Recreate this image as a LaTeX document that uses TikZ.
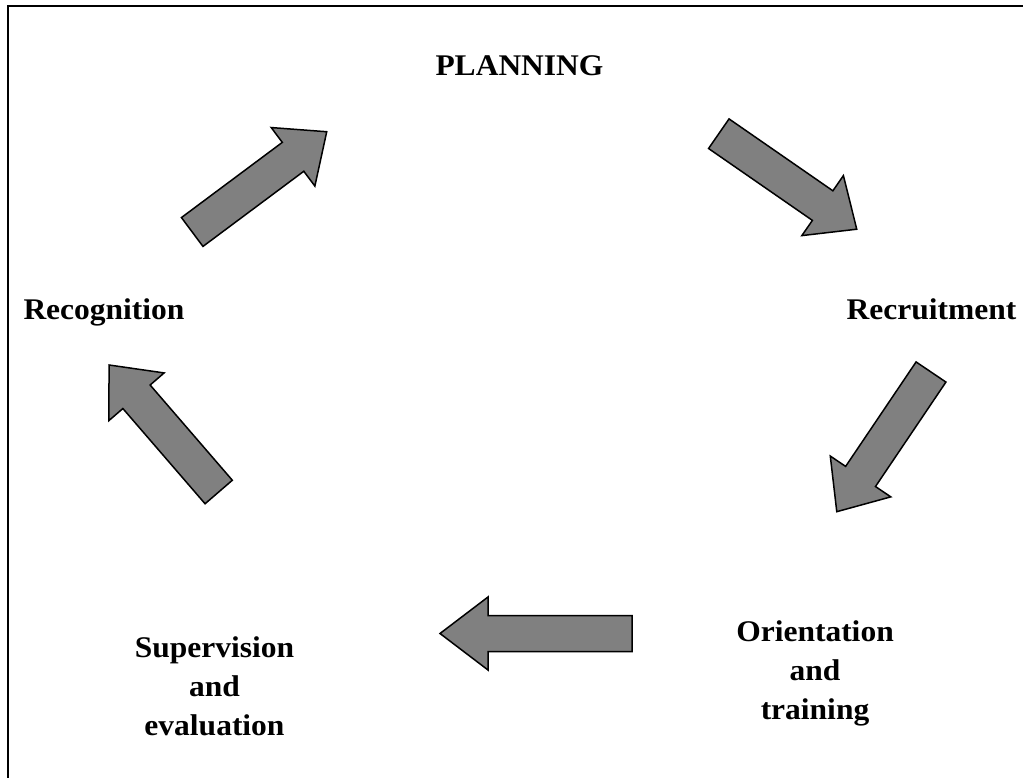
\documentclass[tikz,border=0pt]{standalone}
\usepackage{fontspec}
\setmainfont{Liberation Serif}[FakeStretch=1.05]
\definecolor{arrowgray}{HTML}{808080}
\newcommand\bArrow[5]{%
  \begin{scope}[shift={(#1,#2)},rotate=#3]
    \draw[barrow] (0,-18) -- ({#4-#5},-18) -- ({#4-#5},-36.5) -- (#4,0)
      -- ({#4-#5},36.5) -- ({#4-#5},18) -- (0,18) -- cycle;
  \end{scope}}
\begin{document}
\begin{tikzpicture}[x=1pt,y=-1pt,
  barrow/.style={draw=black, line width=1.5pt, fill=arrowgray, line join=miter},
  lbl/.style={font=\fontsize{30}{39}\selectfont\bfseries, align=center, inner sep=0pt}]
\useasboundingbox (0,0) rectangle (1023,778);
\fill[white] (0,0) rectangle (1023,778);
\draw[line width=2.5pt] (8,778) -- (8,6) -- (1023,6);

\node[lbl, anchor=base] (plan) at (519.5,76) {PLANNING};
\node[lbl, anchor=base] (recruit) at (931.5,319) {Recruitment};
\node[lbl, anchor=base] (recog) at (104,319) {Recognition};
\node[lbl] (orient) at (815,673) {Orientation\\and\\training};
\node[lbl] (superv) at (214.5,686) {Supervision\\and\\evaluation};

\bArrow{192.2}{232}{36.7}{167.8}{42}
\bArrow{718.8}{133.7}{-34.7}{167.8}{41.5}
\bArrow{931}{372}{-124}{168.5}{42.5}
\bArrow{218.7}{492}{130.8}{167.8}{42}
\bArrow{632}{633.5}{180}{192}{48}
\end{tikzpicture}
\end{document}
